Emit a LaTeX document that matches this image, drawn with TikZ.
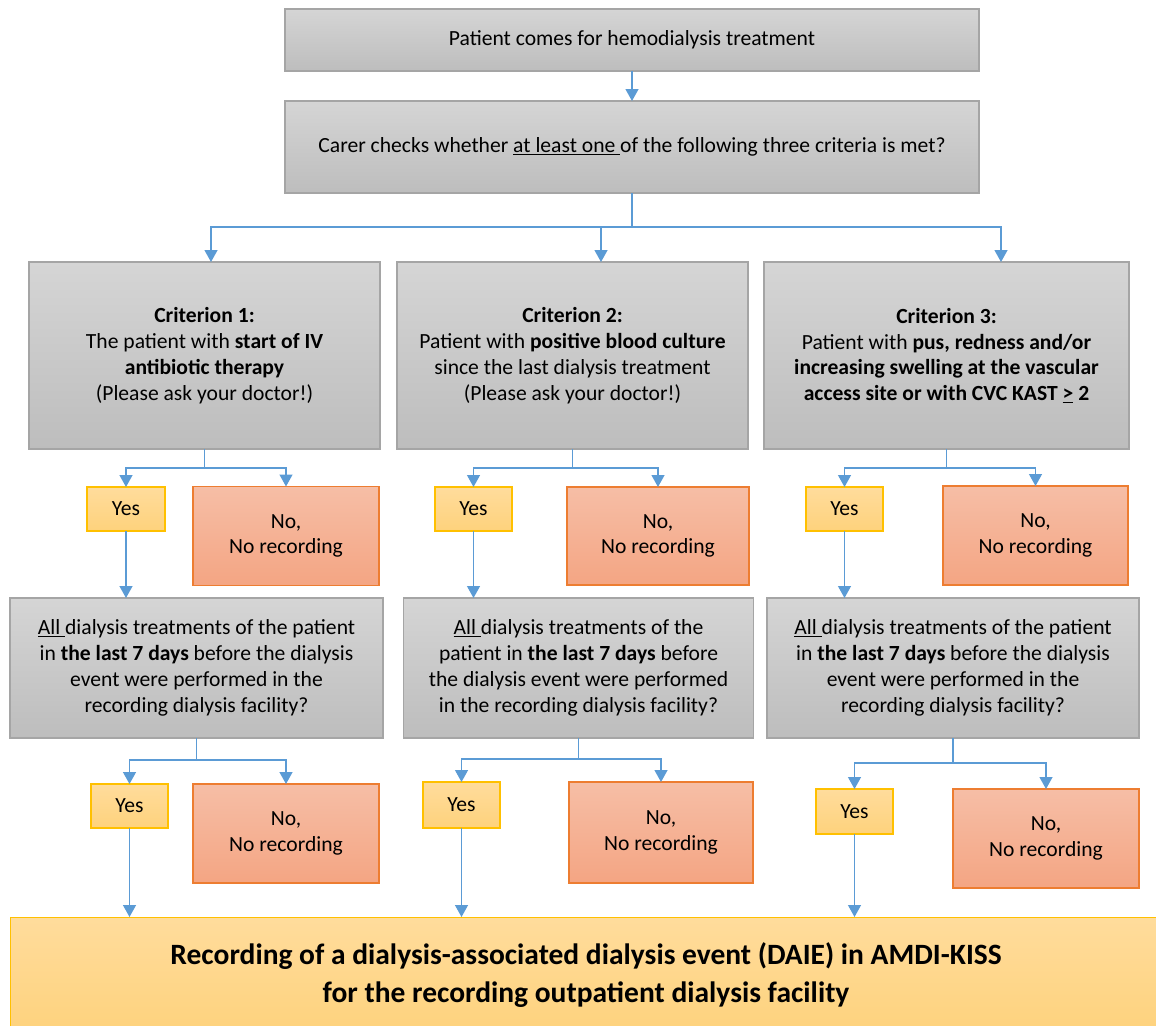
\documentclass[tikz,border=0pt]{standalone}
\usepackage{fontspec}
\setmainfont{Carlito}
\usetikzlibrary{arrows.meta,calc}
\definecolor{arrowblue}{HTML}{5B9BD5}
\definecolor{graytop}{HTML}{D5D5D5}
\definecolor{graybot}{HTML}{BDBDBD}
\definecolor{grayline}{HTML}{A5A5A5}
\definecolor{yestop}{HTML}{FFDC9C}
\definecolor{yesbot}{HTML}{FED27C}
\definecolor{yesline}{HTML}{FFC000}
\definecolor{notop}{HTML}{F6BEA6}
\definecolor{nobot}{HTML}{F4A583}
\definecolor{noline}{HTML}{ED7D31}
\begin{document}
\begin{tikzpicture}[x=1pt,y=-1pt,
  every node/.style={outer sep=0pt,inner sep=2pt,align=center,
    font=\fontsize{21.6}{25.8}\selectfont},
  graybox/.style={draw=grayline,line width=1.2pt,top color=graytop,bottom color=graybot},
  yesbox/.style={draw=yesline,line width=1.2pt,top color=yestop,bottom color=yesbot},
  nobox/.style={draw=noline,line width=1.2pt,top color=notop,bottom color=nobot},
  arr/.style={draw=arrowblue,line width=1.3pt,-{Triangle[width=13pt,length=12pt]}}]
\useasboundingbox (0,0) rectangle (1156,1025);
% rows
\node[graybox,minimum width=694,minimum height=62] (top) at (632,40) {Patient comes for hemodialysis treatment};
\node[graybox,minimum width=694,minimum height=92] (q) at (632,147) {Carer checks whether \underline{at least one }of the following three criteria is met?};
\node[graybox,minimum width=351,minimum height=187] (c1) at (204.5,355.5)
  {\textbf{Criterion 1:}\\The patient with \textbf{start of IV}\\\textbf{antibiotic therapy}\\(Please ask your doctor!)};
\node[graybox,minimum width=351,minimum height=187] (c2) at (572.5,355.5)
  {\textbf{Criterion 2:}\\Patient with \textbf{positive blood culture}\\since the last dialysis treatment\\(Please ask your doctor!)};
\node[graybox,minimum width=365,minimum height=187] (c3) at (946.5,355.5)
  {\textbf{Criterion 3:}\\Patient with \textbf{pus, redness and/or}\\\textbf{increasing swelling at the vascular}\\\textbf{access site or with CVC KAST \underline{>} 2}};
\node[yesbox,minimum width=78,minimum height=44] (y1) at (126,509) {Yes};
\node[nobox,minimum width=186,minimum height=99] (n1) at (286,536) {No,\\No recording};
\node[yesbox,minimum width=77,minimum height=44] (y2) at (473.5,509) {Yes};
\node[nobox,minimum width=182,minimum height=98] (n2) at (658,536) {No,\\No recording};
\node[yesbox,minimum width=77,minimum height=44] (y3) at (844.5,509) {Yes};
\node[nobox,minimum width=185,minimum height=99] (n3) at (1035.5,535.5) {No,\\No recording};
\node[graybox,minimum width=373,minimum height=140] (r1) at (196.5,668)
  {\underline{All }dialysis treatments of the patient\\in \textbf{the last 7 days} before the dialysis\\event were performed in the\\recording dialysis facility?};
\node[graybox,minimum width=350,minimum height=140] (r2) at (578.5,668)
  {\underline{All }dialysis treatments of the\\patient in \textbf{the last 7 days} before\\the dialysis event were performed\\in the recording dialysis facility?};
\node[graybox,minimum width=372,minimum height=140] (r3) at (953,668)
  {\underline{All }dialysis treatments of the patient\\in \textbf{the last 7 days} before the dialysis\\event were performed in the\\recording dialysis facility?};
\node[yesbox,minimum width=77,minimum height=44] (yy1) at (129.5,806) {Yes};
\node[nobox,minimum width=186,minimum height=99] (nn1) at (286,833.5) {No,\\No recording};
\node[yesbox,minimum width=77,minimum height=46] (yy2) at (461.5,805) {Yes};
\node[nobox,minimum width=184,minimum height=101] (nn2) at (661,832.5) {No,\\No recording};
\node[yesbox,minimum width=77,minimum height=45] (yy3) at (854.5,811.5) {Yes};
\node[nobox,minimum width=186,minimum height=99] (nn3) at (1046,838.5) {No,\\No recording};
\node[yesbox,line width=1pt,minimum width=1156,minimum height=120] (rec) at (588,977) {};
\node[font=\fontsize{29.5}{38}\selectfont\bfseries] (rectext) at (586,975)
  {Recording of a dialysis-associated dialysis event (DAIE) in AMDI-KISS\\for the recording outpatient dialysis facility};
% connectors
\draw[arr] (top.south) -- (q.north);
\draw[arr] (q.south) -- ++(0,34) -| ([xshift=6.5pt]c1.north);
\draw[arr] (q.south) -- ++(0,34) -| ([xshift=28.5pt]c2.north);
\draw[arr] (q.south) -- ++(0,34) -| ([xshift=54.5pt]c3.north);
\draw[arr] (c1.south) -- ++(0,19) -| (y1.north);
\draw[arr] (c1.south) -- ++(0,19) -| (n1.north);
\draw[arr] (c2.south) -- ++(0,19) -| (y2.north);
\draw[arr] (c2.south) -- ++(0,19) -| (n2.north);
\draw[arr] (c3.south) -- ++(0,19) -| (y3.north);
\draw[arr] (c3.south) -- ++(0,19) -| (n3.north);
\draw[arr] (y1.south) -- (y1.south |- r1.north);
\draw[arr] (y2.south) -- (y2.south |- r2.north);
\draw[arr] (y3.south) -- (y3.south |- r3.north);
\draw[arr] (r1.south) -- ++(0,22) -| (yy1.north);
\draw[arr] (r1.south) -- ++(0,22) -| (nn1.north);
\draw[arr] (r2.south) -- ++(0,21) -| (yy2.north);
\draw[arr] (r2.south) -- ++(0,21) -| (nn2.north);
\draw[arr] (r3.south) -- ++(0,25) -| (yy3.north);
\draw[arr] (r3.south) -- ++(0,25) -| (nn3.north);
\draw[arr] (yy1.south) -- (yy1.south |- rec.north);
\draw[arr] (yy2.south) -- (yy2.south |- rec.north);
\draw[arr] (yy3.south) -- (yy3.south |- rec.north);
\end{tikzpicture}
\end{document}
